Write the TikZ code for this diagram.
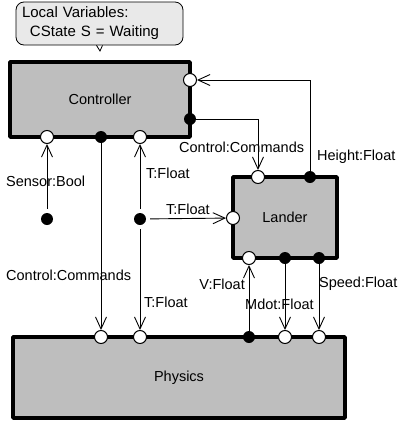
\documentclass[tikz,border=0pt]{standalone}
\usepackage{fontspec}
\setmainfont{Liberation Sans}
\usetikzlibrary{arrows.meta}
\definecolor{BoxGray}{RGB}{190,190,190}
\definecolor{NoteGray}{RGB}{233,233,233}

\begin{document}
\begin{tikzpicture}[x=1pt,y=-1pt,
        font=\fontsize{14.5}{19}\selectfont,
        box/.style={draw=black,fill=BoxGray,line width=4pt,line join=bevel,
                    inner sep=0pt},
        note/.style={draw=black,fill=NoteGray,rounded corners=8pt,line width=0.8pt,
                     text width=155pt,inner xsep=6pt,minimum height=43pt,align=left,
                     font=\fontsize{15}{19}\selectfont},
        openport/.style={circle,draw=black,fill=white,line width=1pt,
                         minimum size=13pt,inner sep=0pt},
        fullport/.style={circle,fill=black,minimum size=12pt,inner sep=0pt},
        flow/.style={line width=0.9pt,-{Straight Barb[length=12pt,width=11pt,line width=0.9pt]}},
        gap/.style={shorten <=4pt},
        lbl/.style={anchor=west,inner sep=0pt}]
        \useasboundingbox (0,0) rectangle (398,421);

        % blocks
        \node[box,minimum width=180pt,minimum height=75pt] (ctrl)   at (100,99.5)  {Controller};
        \node[box,minimum width=104pt,minimum height=81pt] (lander) at (285,217.5) {Lander};
        \node[box,minimum width=332pt,minimum height=81pt] (phys)   at (179,377.5) {Physics};

        % local variables note
        \node[note] (vars) at (99.5,23.5) {Local Variables:\\\hspace*{8pt}CState S = Waiting};
        \coordinate (tip) at (100,51);
        \draw[line width=0.8pt] ([xshift=-3pt]vars.south) -- (tip) -- ([xshift=3pt]vars.south);

        % ports
        \foreach \n/\x/\y in {cS/47/137,cT/140/137,cH/190/80,
                              lC/258/177,lT/233/218,lV/249/258,
                              pC/101/337,pT/140/337,pM/285/337,pS/319/337}
            \node[openport] (\n) at (\x,\y) {};
        \foreach \n/\x/\y in {cC/101/137,cO/190/119,
                              lH/310/177,lM/285/258,lS/319/258,
                              pV/249/337,sdot/47/219,tdot/140/219}
            \node[fullport] (\n) at (\x,\y) {};

        % connectors
        \draw[flow,gap] (sdot) -- (cS);
        \draw[flow,gap] (tdot) -- (cT);
        \draw[flow,gap] (tdot) -- (lT);
        \draw[flow,gap] (tdot) -- (pT);
        \draw[flow] (cC) -- (pC);
        \draw[flow] (cO) -| (lC);
        \draw[flow] (lH) |- (cH);
        \draw[flow] (pV) -- (lV);
        \draw[flow] (lM) -- (pM);
        \draw[flow] (lS) -- (pS);

        % labels
        \node[lbl] (lSensor) at (6,181)   {Sensor:Bool};
        \node[lbl] (lTup)    at (146,173) {T:Float};
        \node[lbl] (lTmid)   at (166,209) {T:Float};
        \node[lbl] (lCmdup)  at (179,147) {Control:Commands};
        \node[lbl] (lHeight) at (317,157) {Height:Float};
        \node[lbl] (lCmdlo)  at (6,275)   {Control:Commands};
        \node[lbl] (lTlo)    at (144,302) {T:Float};
        \node[lbl,anchor=east] (lV) at (245,284) {V:Float};
        \node[lbl] (lMdot)   at (245,304) {Mdot:Float};
        \node[lbl,anchor=east] (lSpeed) at (397.5,284) {Speed:Float};
\end{tikzpicture}
\end{document}
